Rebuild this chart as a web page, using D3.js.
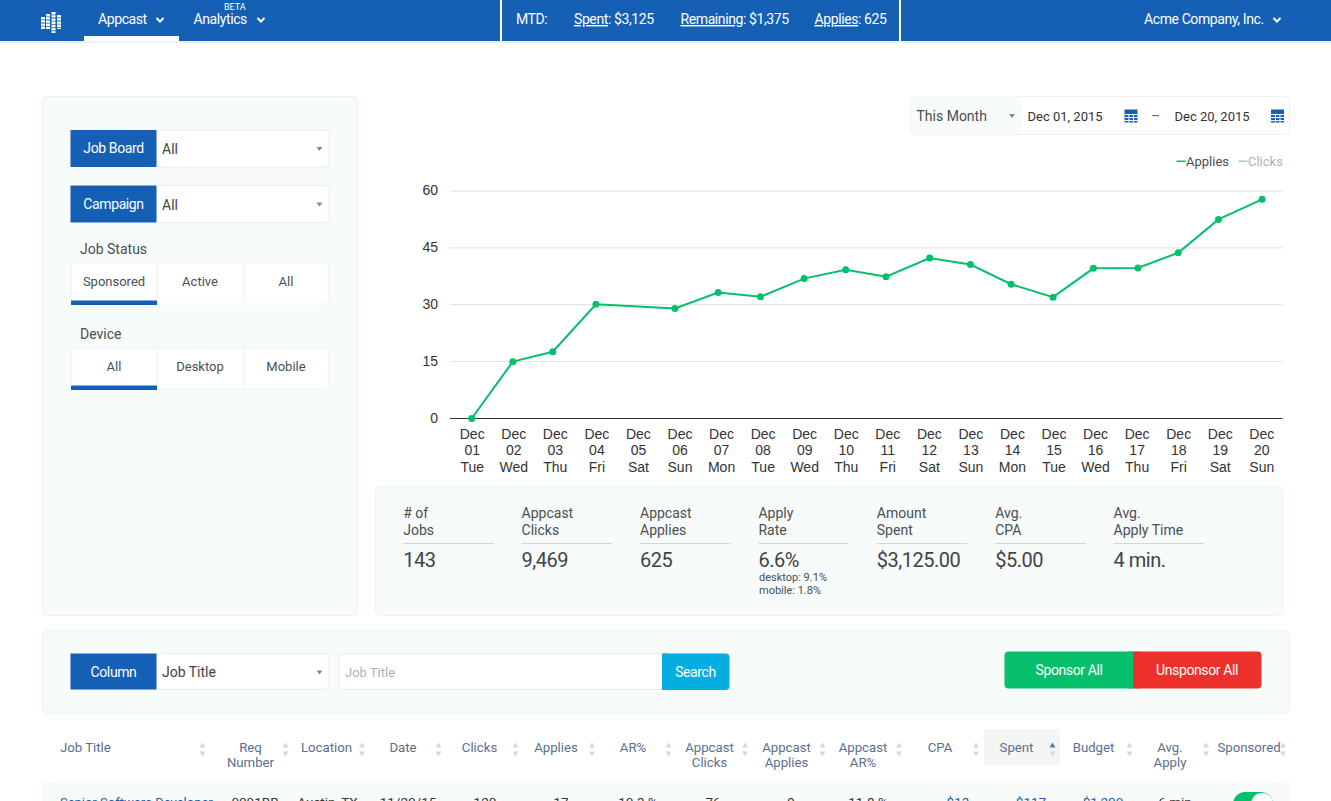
<!DOCTYPE html>
<html>
<head>
<meta charset="utf-8">
<script src="https://cdn.jsdelivr.net/npm/d3@7"></script>
<style>
  html, body { margin: 0; padding: 0; background: #fff; overflow: hidden; }
  svg { display: block; }
  text { font-family: Roboto, sans-serif; fill: #3f4447; }
  .axis text { font-family: "Liberation Sans", Arial, sans-serif; font-size: 14px; fill: #333; }
</style>
</head>
<body>
<svg id="page" width="1331" height="801"></svg>
<script>
// chart data
const tickDays = d3.range(1, 21);
const tickDates = ["01","02","03","04","05","06","07","08","09","10","11","12","13","14","15","16","17","18","19","20"];
const tickWeekdays = ["Tue","Wed","Thu","Fri","Sat","Sun","Mon","Tue","Wed","Thu","Fri","Sat","Sun","Mon","Tue","Wed","Thu","Fri","Sat","Sun"];
// no point on Dec 05
const appliesDays = [1, 1.99, 2.95, 3.99, 5.89, 6.93, 7.95, 9, 10, 10.97, 12.02, 13, 13.98, 14.99, 15.96, 17.03, 18, 18.97, 20.02];
const appliesValues = [0, 15, 17.6, 30.1, 29, 33.2, 32.1, 36.9, 39.2, 37.4, 42.3, 40.6, 35.4, 32, 39.6, 39.7, 43.7, 52.5, 57.8];
const yTicks = [0, 15, 30, 45, 60];

const statLabels = [["# of","Jobs"],["Appcast","Clicks"],["Appcast","Applies"],["Apply","Rate"],["Amount","Spent"],["Avg.","CPA"],["Avg.","Apply Time"]];
const statValues = ["143","9,469","625","6.6%","$3,125.00","$5.00","4 min."];

const tableHeads = [["Req","Number"],["Location"],["Date"],["Clicks"],["Applies"],["AR%"],["Appcast","Clicks"],["Appcast","Applies"],["Appcast","AR%"],["CPA"],["Spent"],["Budget"],["Avg.","Apply"],["Sponsored"]];
const firstRow = ["0001BB","Austin, TX","11/20/15","120","17","10.3 %","76","9","11.8 %","$13","$117","$1,200","6 min"];

const BLUE = "#1560b4", GREEN = "#05bf6c", PANEL = "#f7fbfa", EDGE = "#eef2f1";
const svg = d3.select("#page");

function rect(x, y, w, h, fill, r, stroke) {
  return svg.append("rect").attr("x", x).attr("y", y).attr("width", w).attr("height", h)
    .attr("fill", fill).attr("rx", r || 0).attr("stroke", stroke || "none");
}
function label(x, y, str, size, fill, anchor, weight) {
  return svg.append("text").attr("x", x).attr("y", y).text(str)
    .style("font-size", size + "px").style("fill", fill || "#3f4447")
    .style("font-weight", weight || 400).attr("text-anchor", anchor || "start");
}
// white text is tighter than plain Roboto in the picture
function whiteLabel(x, y, str, anchor) {
  return label(x, y, str, 14, "#fff", anchor).style("letter-spacing", "-0.4px");
}
function navStat(x, name, rest) {
  const t = whiteLabel(x, 24, null);
  t.append("tspan").style("text-decoration", "underline").text(name);
  t.append("tspan").text(rest);
}
function chevron(x, y) {
  svg.append("path").attr("d", `M${x - 3.5},${y - 2}L${x},${y + 1.5}L${x + 3.5},${y - 2}`)
    .attr("fill", "none").attr("stroke", "#fff").attr("stroke-width", 2);
}
function caret(x, y, fill) {
  svg.append("path").attr("d", `M${x - 3},${y - 2}L${x + 3},${y - 2}L${x},${y + 2}Z`).attr("fill", fill || "#888");
}
function sortArrows(x, y, upFill) {
  svg.append("path").attr("d", `M${x - 3},${y - 2}L${x + 3},${y - 2}L${x},${y - 7}Z`).attr("fill", upFill || "#d4d9da");
  svg.append("path").attr("d", `M${x - 3},${y + 2}L${x + 3},${y + 2}L${x},${y + 7}Z`).attr("fill", "#d4d9da");
}
function calendar(x, y) {
  rect(x, y, 13, 13, BLUE);
  [4.5, 7.5, 10.5].forEach(d => rect(x, y + d, 13, 1, "#fff"));
  [4, 8.5].forEach(d => rect(x + d, y + 4.5, 1, 8.5, "#fff"));
}

// nav bar
rect(0, 0, 1331, 41, BLUE);
rect(0, 41, 1331, 2, "#e9f0f6");
[[41, 17, 29], [46, 14, 29], [51.5, 12, 33], [57, 15, 29]].forEach(d => {
  svg.append("line").attr("x1", d[0] + 2).attr("x2", d[0] + 2).attr("y1", d[1]).attr("y2", d[2])
    .attr("stroke", "#fff").attr("stroke-width", 4).attr("stroke-dasharray", "2.4,0.8");
});
rect(84, 36, 95, 5, "#fff");
whiteLabel(98, 24, "Appcast");
chevron(160, 20);
whiteLabel(193.5, 24, "Analytics");
label(224, 10, "BETA", 9, "#fff");
chevron(261, 20);
rect(500, 0, 2, 41, "#fff");
rect(899, 0, 2, 41, "#fff");
whiteLabel(516, 24, "MTD:");
navStat(574, "Spent", ": $3,125");
navStat(680.5, "Remaining", ": $1,375");
navStat(814.5, "Applies", ": 625");
whiteLabel(1144, 24, "Acme Company, Inc.");
chevron(1277, 20);

// left filter panel
rect(42.5, 96.5, 315, 519, PANEL, 5, EDGE);
function filterSelect(y, name, value) {
  rect(157, y, 172, 37, "#fff", 4, "#eceeee");
  rect(70.5, y, 86, 37, BLUE);
  whiteLabel(113.5, y + 23, name, "middle");
  label(162, y + 24, value, 14, "#3f4447");
  caret(319.5, y + 19);
}
filterSelect(130, "Job Board", "All");
filterSelect(185.5, "Campaign", "All");
function toggleGroup(y, title, opts) {
  label(80, y - 9, title, 14, "#4a4f52");
  rect(71.5, y, 257, 41, "#fff", 4, "#f1f3f3");
  [157, 243].forEach(x => rect(x, y, 1, 41, "#f0f2f2"));
  opts.forEach((o, i) => label(114 + i * 86, y + 23, o, 13, "#4a4f52", "middle"));
  rect(71, y + 37.5, 86, 4.5, BLUE);
}
toggleGroup(263, "Job Status", ["Sponsored", "Active", "All"]);
toggleGroup(348, "Device", ["All", "Desktop", "Mobile"]);

// date range
rect(910.5, 96.5, 379, 38, "#fff", 5, "#eef1f1");
rect(910.5, 96.5, 111, 38, PANEL, 5);
label(916.5, 120.5, "This Month", 14, "#4a4f52");
caret(1012, 116);
label(1027.5, 120.5, "Dec 01, 2015", 13, "#333");
calendar(1124.5, 109.5);
label(1155.5, 120.5, "–", 14, "#666", "middle");
label(1174.5, 120.5, "Dec 20, 2015", 13, "#333");
calendar(1271, 109.5);

// legend
rect(1176.5, 160.5, 9, 1.5, GREEN);
label(1186, 166, "Applies", 13, "#4a4f52");
rect(1238.5, 160.5, 9, 1.5, "#a9c3e2");
label(1248, 166, "Clicks", 13, "#aeb2b4");

// line chart
const x = d3.scaleLinear().domain([1, 20]).range([471.7, 1261.3]);
const y = d3.scaleLinear().domain([0, 60]).range([418.5, 191]);

const yAxis = svg.append("g").attr("class", "axis").attr("transform", "translate(450,0)")
  .call(d3.axisLeft(y).tickValues(yTicks).tickSize(-832.5).tickPadding(12).offset(0));
yAxis.select(".domain").remove();
yAxis.selectAll(".tick line").attr("stroke", "#dde1e1");

const xAxis = svg.append("g").attr("class", "axis").attr("transform", "translate(0,418.5)")
  .call(d3.axisBottom(x).tickValues(tickDays).tickSize(0).tickFormat("").offset(0));
xAxis.select(".domain").remove();
xAxis.selectAll(".tick text").each(function (d, i) {
  const t = d3.select(this).attr("y", 0).attr("dy", null);
  ["Dec", tickDates[i], tickWeekdays[i]].forEach((s, k) => {
    t.append("tspan").attr("x", 0.5).attr("y", 20 + k * 16.5).text(s);
  });
});
svg.append("line").attr("x1", 450).attr("x2", 1282.5).attr("y1", y(0)).attr("y2", y(0))
  .attr("stroke", "#333").attr("stroke-width", 1);

const points = appliesDays.map((d, i) => [d, appliesValues[i]]);
svg.append("path").datum(points)
  .attr("fill", "none").attr("stroke", GREEN).attr("stroke-width", 2)
  .attr("d", d3.line().x(d => x(d[0])).y(d => y(d[1])));
svg.append("g").selectAll("circle").data(points).join("circle")
  .attr("cx", d => x(d[0])).attr("cy", d => y(d[1])).attr("r", 3.5).attr("fill", GREEN);

// stats panel
rect(375.5, 486.5, 907, 129, PANEL, 5, EDGE);
statLabels.forEach((lines, i) => {
  const sx = 403.2 + i * 118.4;
  label(sx, 518, lines[0], 14, "#4a4f52");
  label(sx, 535, lines[1], 14, "#4a4f52");
  rect(sx, 543, 90.5, 1, "#d3d6d6");
  label(sx, 567, statValues[i], 20, "#3f4447").style("letter-spacing", "-0.5px");
});
label(759, 581, "desktop: 9.1%", 11, "#4a4f52");
label(759, 594, "mobile: 1.8%", 11, "#4a4f52");

// column search
rect(42.5, 630.5, 1247, 83, PANEL, 5, EDGE);
rect(157, 653.5, 172, 36, "#fff", 4, "#eceeee");
rect(70.5, 653.5, 86, 36, BLUE);
whiteLabel(113.5, 677, "Column", "middle");
label(162, 677, "Job Title", 14, "#3f4447");
caret(319.5, 672.5);
rect(339, 653.5, 330, 36, "#fff", 4, "#eceeee");
label(345, 677, "Job Title", 13, "#aeb2b4");
rect(662, 653.5, 67.5, 36.5, "#04aee0", 4);
rect(662, 653.5, 6, 36.5, "#04aee0");
whiteLabel(695.5, 677, "Search", "middle");

rect(1004.5, 651.5, 129, 37, GREEN, 4);
rect(1128, 651.5, 6, 37, GREEN);
rect(1133, 651.5, 128.5, 37, "#ec312c", 4);
rect(1133, 651.5, 6, 37, "#ec312c");
whiteLabel(1069, 675, "Sponsor All", "middle");
whiteLabel(1197, 675, "Unsponsor All", "middle");

// table header
rect(984, 729, 76, 36, "#f3f6f5");
const HEAD = "#5b6f8c";
label(60, 752, "Job Title", 13.2, HEAD);
sortArrows(202.5, 749.5);
const headCenters = [250.5, 326.5, 403, 479.5, 556, 633, 709.5, 786.5, 863, 940, 1016.5, 1093.5, 1170, 1249];
const arrowXs = [285.5, 362, 438.5, 515.5, 592, 668.5, 745, 822.5, 899, 976, 1052.5, 1129.5, 1206, 1283];
tableHeads.forEach((lines, i) => {
  lines.forEach((s, k) => label(headCenters[i], 752 + k * 15, s, 13.2, HEAD, "middle"));
  sortArrows(arrowXs[i], 749.5, lines[0] === "Spent" ? "#3f7fc4" : null);
});

// first row, cut off by the window
rect(42, 782, 1248, 30, PANEL);
label(60, 807, "Senior Software Developer", 13, BLUE);
const rowCenters = [255, 327.5, 408, 485, 561, 638, 713, 791, 868, 958, 1031, 1103, 1175];
firstRow.forEach((s, i) => {
  label(rowCenters[i], 807, s, 13.5, s.startsWith("$") ? BLUE : "#333", "middle");
});
rect(1233, 792, 40, 24, GREEN, 12);
svg.append("circle").attr("cx", 1262).attr("cy", 804).attr("r", 11).attr("fill", "#fff");
</script>
</body>
</html>
